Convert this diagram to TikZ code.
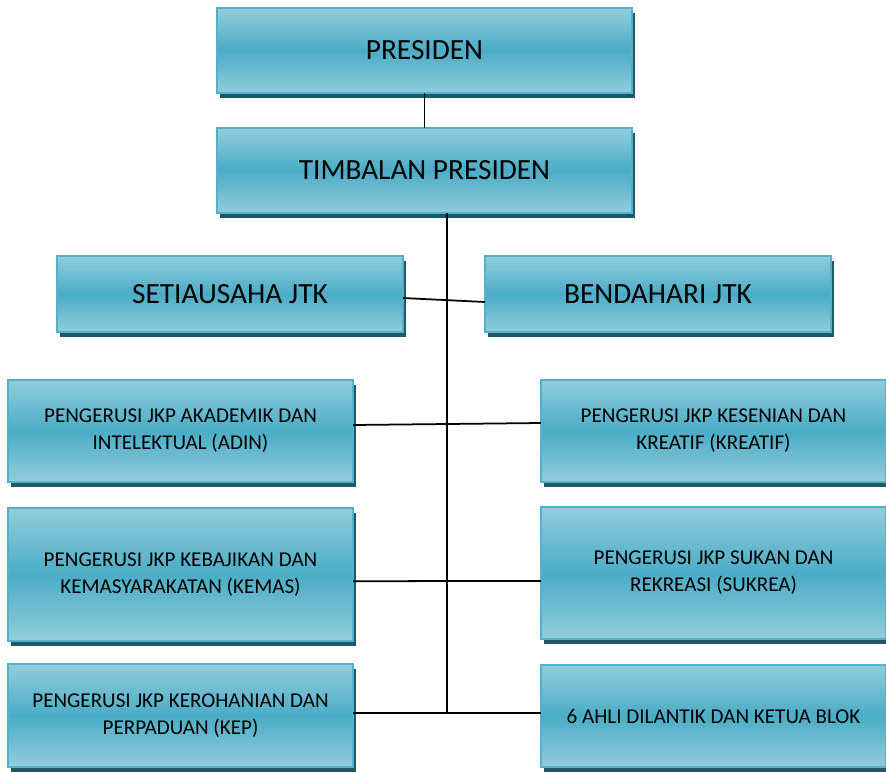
\documentclass[tikz,border=0pt]{standalone}
\usepackage{fontspec}
\setmainfont{Carlito}
\usetikzlibrary{positioning,shadows}
\definecolor{boxlight}{RGB}{146,205,220}
\definecolor{boxmid}{RGB}{75,172,198}
\definecolor{boxedge}{RGB}{82,178,204}
\definecolor{boxshadow}{RGB}{33,88,104}

\begin{document}
\begin{tikzpicture}[x=0.03cm, y=-0.03cm,
  jawatan/.style={draw=boxedge, line width=0.9pt, rectangle, inner sep=0pt, outer sep=0pt,
    top color=boxlight, bottom color=boxlight, middle color=boxmid,
    drop shadow={shadow xshift=2.5pt, shadow yshift=-4.3pt, fill=boxshadow, opacity=1},
    align=center, text=black},
  besar/.style={jawatan, minimum width=12.45cm, minimum height=2.55cm, font=\fontsize{25}{30}\selectfont},
  sederhana/.style={jawatan, minimum width=10.38cm, minimum height=2.28cm, font=\fontsize{25}{30}\selectfont},
  kecil/.style={jawatan, minimum width=10.35cm, font=\fontsize{18}{23}\selectfont},
  garis/.style={draw=black, line width=1.5pt}]
  \useasboundingbox (0,0) rectangle (886,771);

  % top of the chart
  \node[besar] (presiden) at (424.5,50.5) {PRESIDEN};
  \node[besar] (timbalan) at (424.5,170.5) {TIMBALAN PRESIDEN};
  \node[sederhana] (setia) at (230,294) {SETIAUSAHA JTK};
  \node[sederhana] (benda) at (658,294) {BENDAHARI JTK};

  % left column
  \foreach \nm/\y/\h/\txt in {adin/431/3.06/{PENGERUSI JKP AKADEMIK DAN\\INTELEKTUAL (ADIN)},
      kemas/574.5/3.99/{PENGERUSI JKP KEBAJIKAN DAN\\KEMASYARAKATAN (KEMAS)},
      kep/715.5/3.09/{PENGERUSI JKP KEROHANIAN DAN\\PERPADUAN (KEP)}}
    \node[kecil, minimum height=\h cm] (\nm) at (180.5,\y) {\txt};

  % right column
  \foreach \nm/\y/\h/\txt in {kreatif/431/3.06/{PENGERUSI JKP KESENIAN DAN\\KREATIF (KREATIF)},
      sukrea/573/3.96/{PENGERUSI JKP SUKAN DAN\\REKREASI (SUKREA)},
      blok/716/3.06/{6 AHLI DILANTIK DAN KETUA BLOK}}
    \node[kecil, minimum height=\h cm] (\nm) at (713.5,\y) {\txt};

  % connectors
  \coordinate (atas) at ([xshift=0.675cm]timbalan.south);
  \coordinate (bawah) at (447,713);
  \draw[garis] (presiden.south) -- (timbalan.north);
  \draw[garis] (atas) -- (bawah);
  \draw[garis] ([yshift=-0.12cm]setia.east) -- ([yshift=-0.24cm]benda.west);
  \draw[garis] ([yshift=0.18cm]adin.east) -- ([yshift=0.24cm]kreatif.west);
  \draw[garis] ([yshift=-0.2cm]kemas.east) -- ([yshift=-0.24cm]sukrea.west);
  \draw[garis] ([yshift=0.075cm]kep.east) -- ([yshift=0.09cm]blok.west);
\end{tikzpicture}
\end{document}
